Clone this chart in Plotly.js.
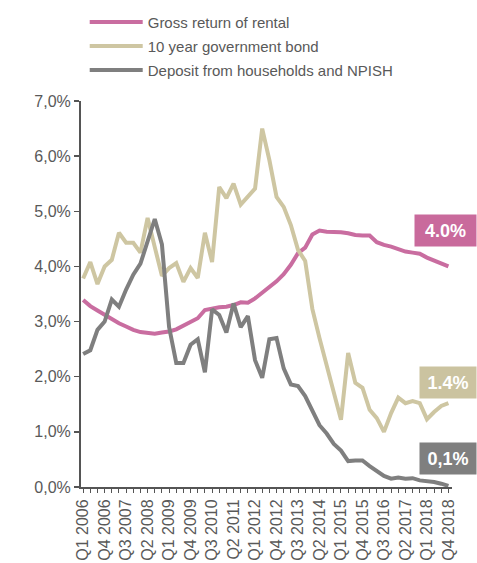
<!DOCTYPE html>
<html>
<head>
<meta charset="utf-8">
<script src="https://cdn.plot.ly/plotly-3.0.1.min.js"></script>
<style>html,body{margin:0;padding:0;background:#fff;}#chart{width:477px;height:563px;}</style>
</head>
<body>
<div id="chart"></div>
<script>
const quarters = [];
for (let y = 2006; y <= 2018; y++) { for (let q = 1; q <= 4; q++) quarters.push('Q' + q + ' ' + y); }

const rental = [3.39,3.28,3.20,3.12,3.04,2.97,2.91,2.85,2.81,2.79,2.78,2.80,2.82,2.86,2.92,2.98,3.06,3.21,3.24,3.26,3.27,3.30,3.35,3.34,3.42,3.52,3.61,3.73,3.86,4.03,4.24,4.34,4.58,4.65,4.63,4.63,4.62,4.60,4.57,4.56,4.56,4.44,4.39,4.36,4.31,4.27,4.25,4.23,4.16,4.11,4.06,4.00];
const bond = [3.78,4.08,3.68,4.00,4.12,4.61,4.43,4.43,4.25,4.88,4.35,3.83,3.97,4.06,3.72,3.97,3.79,4.61,4.08,5.44,5.24,5.50,5.12,5.26,5.41,6.50,5.93,5.26,5.08,4.75,4.30,4.10,3.23,2.70,2.20,1.65,1.22,2.43,1.89,1.80,1.40,1.25,1.00,1.34,1.62,1.52,1.56,1.52,1.23,1.36,1.47,1.52];
const deposit = [2.41,2.48,2.85,3.00,3.40,3.27,3.58,3.85,4.05,4.48,4.86,4.40,2.90,2.25,2.25,2.58,2.68,2.08,3.22,3.12,2.80,3.33,2.90,3.10,2.30,1.98,2.68,2.70,2.15,1.86,1.83,1.65,1.38,1.12,0.97,0.78,0.66,0.47,0.48,0.48,0.38,0.30,0.20,0.15,0.17,0.15,0.16,0.12,0.11,0.09,0.06,0.02];

const seriesNames = ['Gross return of rental','10 year government bond','Deposit from households and NPISH'];
const endLabels = ['4.0%','1.4%','0,1%'];
const endLabelY = [4.65, 1.89, 0.52];
const yTickVals = [0,1,2,3,4,5,6,7];
const yTickText = ['0,0%','1,0%','2,0%','3,0%','4,0%','5,0%','6,0%','7,0%'];
const xTickText = quarters.map((q, i) => (i % 3 === 0 ? q : ''));

const colors = ['#C96DA0','#CEC6A2','#7F7F7F'];
const boxColors = ['#C96A9C','#CBC3A0','#7F7F7F'];
const font = 'Liberation Sans, Arial, sans-serif';
const txt = '#595959';

const data = [rental, bond, deposit].map((vals, k) => ({
  type: 'scatter', mode: 'lines', x: quarters, y: vals, name: seriesNames[k],
  legendgroup: 'g' + k,
  line: {color: colors[k], width: 4}, hoverinfo: 'skip'
}));

const annotations = endLabels.map((t, k) => ({
  xref: 'paper', yref: 'y', x: (477 - 81) / 371, y: endLabelY[k], xanchor: 'right', yanchor: 'middle',
  text: '<b>' + t + '</b>', showarrow: false, bgcolor: boxColors[k], borderpad: 0,
  width: k === 0 ? 61 : 56, height: 31,
  font: {family: font, size: 18, color: '#ffffff'}
}));

const layout = {
  width: 477, height: 563,
  margin: {l: 81, r: 25, t: 101, b: 76, autoexpand: false},
  paper_bgcolor: '#fff', plot_bgcolor: '#fff',
  font: {family: font, color: txt, size: 16},
  showlegend: true,
  legend: {x: 0.01, y: 1.247, xanchor: 'left', yanchor: 'top', itemwidth: 53,
    font: {family: font, size: 15, color: txt}, bgcolor: 'rgba(0,0,0,0)', tracegroupgap: 1.5},
  xaxis: {type: 'category', range: [-0.3, 51.5], tickmode: 'array', tickvals: quarters, ticktext: xTickText,
    tickangle: -90, ticks: 'outside', ticklen: 4, tickcolor: '#555', tickwidth: 1,
    showline: true, linecolor: '#555', linewidth: 2, showgrid: false, zeroline: false,
    automargin: false,
    tickfont: {family: font, size: 16, color: txt}},
  yaxis: {range: [0, 7], tickmode: 'array', tickvals: yTickVals, ticktext: yTickText,
    ticks: 'outside', ticklen: 5, tickcolor: '#555', tickwidth: 1.5,
    showline: true, linecolor: '#555', linewidth: 2, showgrid: false, zeroline: false,
    automargin: false,
    tickfont: {family: font, size: 16, color: txt}},
  annotations: annotations
};

Plotly.newPlot('chart', data, layout, {displayModeBar: false, staticPlot: true});
</script>
</body>
</html>
